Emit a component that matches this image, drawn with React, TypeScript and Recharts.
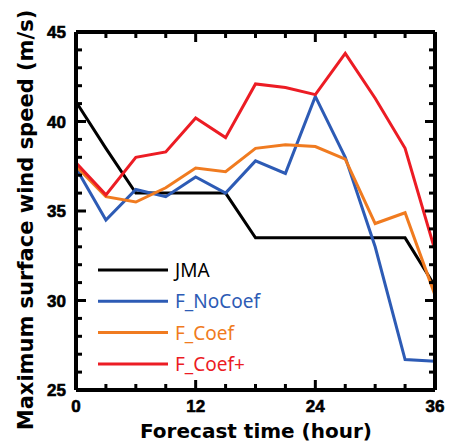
import { LineChart, Line, XAxis, YAxis } from 'recharts';

// 3-hourly forecast times
const hours = [0, 3, 6, 9, 12, 15, 18, 21, 24, 27, 30, 33, 36];
const jma = [41.1, 38.5, 36.0, 36.0, 36.0, 36.0, 33.5, 33.5, 33.5, 33.5, 33.5, 33.5, 30.8];
const fNoCoef = [37.4, 34.5, 36.2, 35.8, 36.9, 36.0, 37.8, 37.1, 41.4, 38.0, 33.0, 26.7, 26.6];
const fCoef = [37.5, 35.8, 35.5, 36.3, 37.4, 37.2, 38.5, 38.7, 38.6, 37.9, 34.3, 34.9, 30.3];
const fCoefPlus = [37.7, 35.9, 38.0, 38.3, 40.2, 39.1, 42.1, 41.9, 41.5, 43.8, 41.3, 38.5, 32.8];

const seriesNames = ['JMA', 'F_NoCoef', 'F_Coef', 'F_Coef+'];
const seriesKeys = ['jma', 'fNoCoef', 'fCoef', 'fCoefPlus'];
const seriesColors = ['#000000', '#2D5BB5', '#F07B20', '#EC1C24'];

const xTicks = [0, 3, 6, 9, 12, 15, 18, 21, 24, 27, 30, 33, 36];
const xLabels = [0, 12, 24, 36];
const yTicks = [25, 26, 27, 28, 29, 30, 31, 32, 33, 34, 35, 36, 37, 38, 39, 40, 41, 42, 43, 44, 45];
const yLabels = [25, 30, 35, 40, 45];

const data = hours.map((h, i) => ({
  hour: h,
  jma: jma[i],
  fNoCoef: fNoCoef[i],
  fCoef: fCoef[i],
  fCoefPlus: fCoefPlus[i],
}));

const tickFont = {
  fontFamily: '"Liberation Sans", Arial, sans-serif',
  fontWeight: 'bold' as const,
  fontSize: 17,
  fill: '#000',
  stroke: '#000',
  strokeWidth: 0.6,
};

// ticks point inwards, labels only on the major ones
const BottomTick = (props: any) => {
  const { x, y, payload } = props;
  const major = xLabels.includes(payload.value);
  return (
    <g>
      <line x1={x} x2={x} y1={y} y2={y - (major ? 10 : 6)} stroke="#000" strokeWidth={3} />
      {major && (
        <text x={x} y={y + 22} textAnchor="middle" {...tickFont}>
          {payload.value}
        </text>
      )}
    </g>
  );
};

const TopTick = (props: any) => {
  const { x, y, payload } = props;
  const major = xLabels.includes(payload.value);
  return (
    <g>
      <line x1={x} x2={x} y1={y} y2={y + (major ? 10 : 6)} stroke="#000" strokeWidth={3} />
    </g>
  );
};

const LeftTick = (props: any) => {
  const { x, y, payload } = props;
  const major = yLabels.includes(payload.value);
  return (
    <g>
      <line x1={x} x2={x + (major ? 10 : 6)} y1={y} y2={y} stroke="#000" strokeWidth={3} />
      {major && (
        <text x={x - 10} y={y + 6} textAnchor="end" {...tickFont}>
          {payload.value}
        </text>
      )}
    </g>
  );
};

const RightTick = (props: any) => {
  const { x, y, payload } = props;
  const major = yLabels.includes(payload.value);
  return (
    <g>
      <line x1={x} x2={x - (major ? 10 : 6)} y1={y} y2={y} stroke="#000" strokeWidth={3} />
    </g>
  );
};

const axisLine = { stroke: '#000', strokeWidth: 4 };

export default function App() {
  return (
    <div style={{ position: 'absolute', left: 0, top: 0, width: 450, height: 444, background: '#fff' }}>
      <LineChart width={450} height={444} data={data} margin={{ top: 31, right: 14, bottom: 0, left: 0 }}>
        <XAxis
          dataKey="hour"
          type="number"
          domain={[0, 36]}
          ticks={xTicks}
          interval={0}
          height={54}
          tickSize={0}
          tickMargin={0}
          axisLine={axisLine}
          tick={<BottomTick />}
        />
        <XAxis
          xAxisId="top"
          orientation="top"
          dataKey="hour"
          type="number"
          domain={[0, 36]}
          ticks={xTicks}
          interval={0}
          height={1}
          tickSize={0}
          tickMargin={0}
          axisLine={axisLine}
          tick={<TopTick />}
        />
        <YAxis
          type="number"
          domain={[25, 45]}
          ticks={yTicks}
          interval={0}
          width={76}
          tickSize={0}
          tickMargin={0}
          axisLine={axisLine}
          tick={<LeftTick />}
        />
        <YAxis
          yAxisId="right"
          orientation="right"
          dataKey="jma"
          type="number"
          domain={[25, 45]}
          ticks={yTicks}
          interval={0}
          width={1}
          tickSize={0}
          tickMargin={0}
          axisLine={axisLine}
          tick={<RightTick />}
        />
        {seriesKeys.map((k, i) => (
          <Line
            key={k}
            type="linear"
            dataKey={k}
            name={seriesNames[i]}
            stroke={seriesColors[i]}
            strokeWidth={3}
            dot={false}
            isAnimationActive={false}
          />
        ))}
      </LineChart>
      <svg
        width={450}
        height={444}
        style={{ position: 'absolute', left: 0, top: 0, pointerEvents: 'none' }}
      >
        {seriesNames.map((n, i) => (
          <g key={n}>
            <line x1={98} x2={168} y1={270 + i * 31.3} y2={270 + i * 31.3} stroke={seriesColors[i]} strokeWidth={3} />
            <text
              x={175}
              y={277 + i * 31.3}
              fill={seriesColors[i]}
              fontFamily='"Noto Sans", sans-serif'
              fontSize={19}
            >
              {n}
            </text>
          </g>
        ))}
        <text
          x={256}
          y={438}
          textAnchor="middle"
          fontFamily='"DejaVu Sans", sans-serif'
          fontWeight="bold"
          fontSize={20}
        >
          Forecast time (hour)
        </text>
        <text
          transform="translate(33, 220) rotate(-90)"
          textAnchor="middle"
          fontFamily='"DejaVu Sans", sans-serif'
          fontWeight="bold"
          fontSize={21}
        >
          Maximum surface wind speed (m/s)
        </text>
      </svg>
    </div>
  );
}
